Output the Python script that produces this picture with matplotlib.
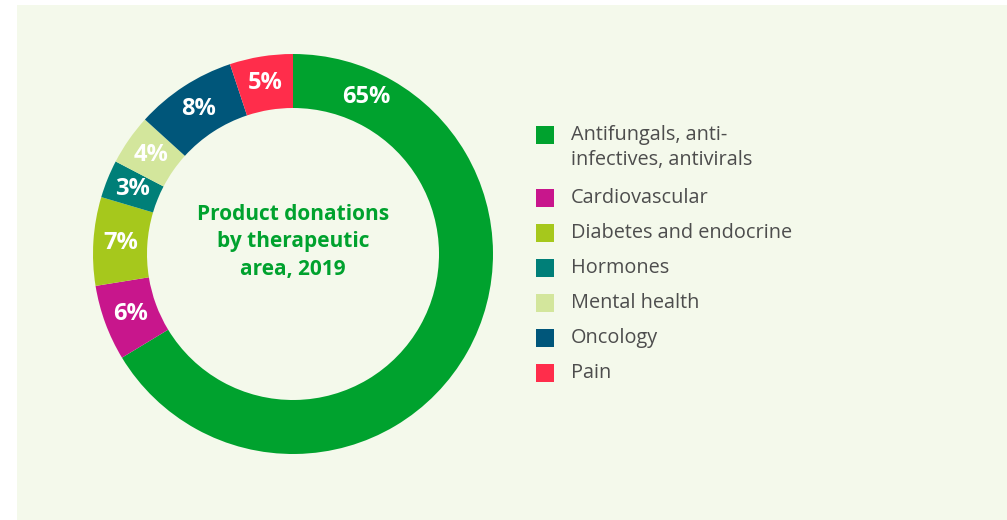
import matplotlib
matplotlib.use("Agg")
import matplotlib.pyplot as plt
from matplotlib.patches import Rectangle
import numpy as np

categories = ["Antifungals, anti-\ninfectives, antivirals", "Cardiovascular",
              "Diabetes and endocrine", "Hormones", "Mental health", "Oncology", "Pain"]
values = [65, 6, 7, 3, 4, 8, 5]
labels = ["65%", "6%", "7%", "3%", "4%", "8%", "5%"]
colors = ["#00a22e", "#c8168c", "#a6c81c", "#007f78", "#d3e69c", "#00567a", "#ff2d4b"]
title = "Product donations\nby therapeutic\narea, 2019"

plt.rcParams['font.family'] = ['Open Sans', 'DejaVu Sans']

W, H = 1007, 520
fig = plt.figure(figsize=(W / 100, H / 100), dpi=100)
fig.patch.set_facecolor("white")
ax = fig.add_axes([0, 0, 1, 1])

ax.add_patch(Rectangle((17, 0), W - 17, H - 5, facecolor="#f4f9eb", edgecolor="none", zorder=0))

cx, cy = 293, 266
R, ring = 200, 54
wedges, _ = ax.pie(values, colors=colors, startangle=90, counterclock=False,
                   center=(cx, cy), radius=R, frame=True,
                   wedgeprops=dict(width=ring, edgecolor="none"))
ax.set_xlim(0, W)
ax.set_ylim(0, H)
ax.set_aspect("equal")
ax.axis("off")

rl = R - ring / 2
for i, (w, lab) in enumerate(zip(wedges, labels)):
    ang = (w.theta1 + w.theta2) / 2
    if i == 0:
        ang = 65
    a = np.deg2rad(ang)
    ax.text(cx + rl * np.cos(a), cy + rl * np.sin(a), lab, color="white",
            fontsize=17, fontweight="bold", ha="center", va="center", zorder=5)

ax.text(cx, cy + 12, title, color="#00a22e", fontsize=15, fontweight="bold",
        ha="center", va="center", linespacing=1.4, zorder=5)

# legend
y = H - 135
for cat, col in zip(categories, colors):
    ax.add_patch(Rectangle((536, y - 9), 18, 18, facecolor=col, edgecolor="none", zorder=5))
    if "\n" in cat:
        ax.text(571, y - 12.5, cat, color="#4d4d4d", fontsize=14.3, ha="left", va="center",
                linespacing=1.3, zorder=5)
        y -= 63
    else:
        ax.text(571, y, cat, color="#4d4d4d", fontsize=14.3, ha="left", va="center", zorder=5)
        y -= 35

fig.savefig("out.png", dpi=100, facecolor=fig.get_facecolor())
